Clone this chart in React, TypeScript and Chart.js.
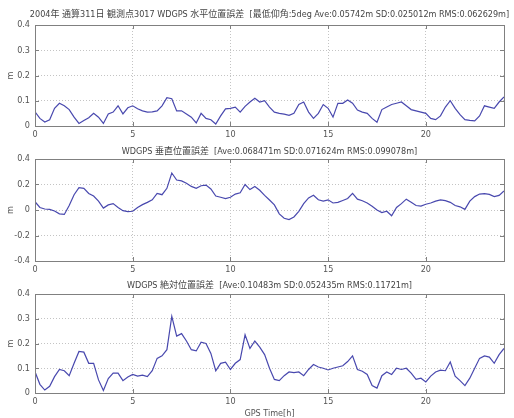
import React, { useEffect, useRef } from 'react';
import { Chart, registerables } from 'chart.js';

Chart.register(...registerables);

const hours = [
  0, 0.25, 0.5, 0.75, 1, 1.25, 1.5, 1.75, 2, 2.25, 2.5, 2.75, 3, 3.25, 3.5, 3.75,
  4, 4.25, 4.5, 4.75, 5, 5.25, 5.5, 5.75, 6, 6.25, 6.5, 6.75, 7, 7.25, 7.5, 7.75,
  8, 8.25, 8.5, 8.75, 9, 9.25, 9.5, 9.75, 10, 10.25, 10.5, 10.75, 11, 11.25, 11.5, 11.75,
  12, 12.25, 12.5, 12.75, 13, 13.25, 13.5, 13.75, 14, 14.25, 14.5, 14.75, 15, 15.25, 15.5, 15.75,
  16, 16.25, 16.5, 16.75, 17, 17.25, 17.5, 17.75, 18, 18.25, 18.5, 18.75, 19, 19.25, 19.5, 19.75,
  20, 20.25, 20.5, 20.75, 21, 21.25, 21.5, 21.75, 22, 22.25, 22.5, 22.75, 23, 23.25, 23.5, 23.75, 24,
];

const horizontalError = [
  0.056, 0.03, 0.016, 0.025, 0.07, 0.09, 0.08, 0.065, 0.035, 0.01, 0.022, 0.033, 0.05, 0.035, 0.01, 0.048,
  0.055, 0.08, 0.048, 0.072, 0.08, 0.068, 0.06, 0.055, 0.056, 0.06, 0.08, 0.112, 0.108, 0.06, 0.06, 0.048,
  0.035, 0.012, 0.05, 0.03, 0.025, 0.008, 0.04, 0.068, 0.07, 0.075, 0.055, 0.078, 0.095, 0.11, 0.095, 0.1,
  0.075, 0.055, 0.05, 0.047, 0.042, 0.05, 0.085, 0.095, 0.055, 0.03, 0.05, 0.085, 0.07, 0.035, 0.09, 0.09,
  0.103, 0.09, 0.063, 0.055, 0.05, 0.03, 0.015, 0.065, 0.075, 0.085, 0.09, 0.095, 0.08, 0.065, 0.06, 0.055,
  0.05, 0.03, 0.025, 0.04, 0.075, 0.1, 0.07, 0.045, 0.025, 0.022, 0.02, 0.04, 0.08, 0.075, 0.07, 0.095, 0.115,
];

const verticalError = [
  0.065, 0.02, 0.008, 0.005, -0.008, -0.03, -0.035, 0.035, 0.12, 0.175, 0.17, 0.13, 0.11, 0.07, 0.015, 0.04,
  0.05, 0.02, -0.005, -0.013, -0.01, 0.02, 0.042, 0.06, 0.08, 0.13, 0.12, 0.17, 0.29, 0.235, 0.228, 0.21,
  0.185, 0.17, 0.19, 0.195, 0.165, 0.11, 0.1, 0.09, 0.1, 0.125, 0.135, 0.2, 0.16, 0.185, 0.155, 0.115,
  0.078, 0.04, -0.03, -0.065, -0.075, -0.055, -0.01, 0.05, 0.095, 0.115, 0.08, 0.07, 0.08, 0.055, 0.06, 0.075,
  0.09, 0.13, 0.085, 0.073, 0.055, 0.03, 0.0, -0.02, -0.01, -0.045, 0.02, 0.05, 0.085, 0.06, 0.035, 0.03,
  0.045, 0.055, 0.07, 0.08, 0.073, 0.06, 0.035, 0.025, 0.005, 0.07, 0.105, 0.125, 0.128, 0.122, 0.105, 0.115, 0.15,
];

const absoluteError = [
  0.086, 0.035, 0.012, 0.027, 0.066, 0.095, 0.09, 0.07, 0.12, 0.168, 0.165, 0.12, 0.12, 0.053, 0.01, 0.058,
  0.08, 0.08, 0.05, 0.065, 0.075, 0.068, 0.072, 0.066, 0.09, 0.14, 0.15, 0.175, 0.31, 0.23, 0.24, 0.21,
  0.175, 0.17, 0.205, 0.2, 0.16, 0.09, 0.12, 0.125, 0.095, 0.12, 0.135, 0.235, 0.18, 0.21, 0.185, 0.155,
  0.1, 0.055, 0.05, 0.07, 0.085, 0.082, 0.085, 0.07, 0.095, 0.115, 0.105, 0.1, 0.093, 0.1, 0.105, 0.11,
  0.127, 0.15, 0.095, 0.088, 0.075, 0.03, 0.02, 0.07, 0.085, 0.075, 0.1, 0.095, 0.1, 0.08, 0.055, 0.06,
  0.045, 0.068, 0.085, 0.092, 0.09, 0.125, 0.068, 0.05, 0.03, 0.06, 0.1, 0.14, 0.15, 0.145, 0.12, 0.155, 0.18,
];

const titles = [
  '2004年 通算311日 観測点3017 WDGPS 水平位置誤差  [最低仰角:5deg Ave:0.05742m SD:0.025012m RMS:0.062629m]',
  'WDGPS 垂直位置誤差  [Ave:0.068471m SD:0.071624m RMS:0.099078m]',
  'WDGPS 絶対位置誤差  [Ave:0.10483m SD:0.052435m RMS:0.11721m]',
];

const xTitle = 'GPS Time[h]';
const yTitle = 'm';

const FONT = "'Liberation Sans Narrow', 'DejaVu Sans Condensed', 'Noto Sans CJK JP', sans-serif";
const TEXT = '#555';

const framePlugin = {
  id: 'frame',
  afterDraw(chart: any, _args: any, opts: any) {
    const { ctx, chartArea } = chart;
    const { left, right, top, bottom } = chartArea;
    ctx.save();
    ctx.font = `${opts.titleSize}px ${FONT}`;
    ctx.fillStyle = '#444';
    ctx.textAlign = 'center';
    ctx.textBaseline = 'middle';
    ctx.fillText(opts.text, (left + right) / 2, top - opts.offset);
    ctx.strokeStyle = '#808080';
    ctx.lineWidth = 1;
    ctx.strokeRect(Math.round(left) + 0.5, Math.round(top) + 0.5, Math.round(right - left), Math.round(bottom - top));
    const xs = chart.scales.x;
    const ys = chart.scales.y;
    ctx.beginPath();
    xs.ticks.forEach((t: any) => {
      const px = Math.round(xs.getPixelForValue(t.value)) + 0.5;
      ctx.moveTo(px, bottom);
      ctx.lineTo(px, bottom - 4);
      ctx.moveTo(px, top);
      ctx.lineTo(px, top + 4);
    });
    ys.ticks.forEach((t: any) => {
      const py = Math.round(ys.getPixelForValue(t.value)) + 0.5;
      ctx.moveTo(left, py);
      ctx.lineTo(left + 4, py);
      ctx.moveTo(right, py);
      ctx.lineTo(right - 4, py);
    });
    ctx.stroke();
    ctx.restore();
  },
};

type Panel = {
  title: string;
  values: number[];
  min: number;
  max: number;
  step: number;
  top: number;
  height: number;
  padTop: number;
  xHeight: number;
  titleOffset: number;
  showXTitle: boolean;
};

const panels: Panel[] = [
  { title: titles[0], values: horizontalError, min: 0, max: 0.4, step: 0.1, top: 0, height: 140, padTop: 25, xHeight: 14, titleOffset: 10, showXTitle: false },
  { title: titles[1], values: verticalError, min: -0.4, max: 0.4, step: 0.2, top: 140, height: 135, padTop: 19, xHeight: 14, titleOffset: 7, showXTitle: false },
  { title: titles[2], values: absoluteError, min: 0, max: 0.4, step: 0.1, top: 275, height: 144, padTop: 19, xHeight: 26, titleOffset: 8, showXTitle: true },
];

function PanelChart({ p }: { p: Panel }) {
  const ref = useRef<HTMLCanvasElement | null>(null);
  useEffect(() => {
    if (!ref.current) return;
    const font = { family: FONT, size: 9 };
    const chart = new Chart(ref.current, {
      type: 'line',
      data: {
        datasets: [
          {
            data: hours.map((h, i) => ({ x: h, y: p.values[i] })),
            borderColor: 'rgba(52, 52, 165, 0.9)',
            borderWidth: 1.2,
            pointRadius: 0,
            tension: 0,
            fill: false,
          },
        ],
      },
      options: {
        animation: false,
        responsive: false,
        devicePixelRatio: 1,
        layout: { padding: { top: p.padTop, right: 10, bottom: 0, left: 0 } },
        plugins: {
          legend: { display: false },
          tooltip: { enabled: false },
          title: { display: false },
          frame: { text: p.title, offset: p.titleOffset, titleSize: 9 },
        } as any,
        scales: {
          x: {
            type: 'linear',
            min: 0,
            max: 24,
            afterFit: (s: any) => { s.height = p.xHeight; },
            ticks: { stepSize: 5, includeBounds: false, padding: 3, maxRotation: 0, color: TEXT, font },
            grid: { color: '#c4c4c4', drawTicks: false, lineWidth: 1 },
            border: { display: false, dash: [1, 2] },
            title: { display: p.showXTitle, text: xTitle, color: TEXT, font, padding: { top: 0, bottom: 0 } },
          },
          y: {
            type: 'linear',
            min: p.min,
            max: p.max,
            afterFit: (s: any) => { s.width = 35; },
            ticks: { stepSize: p.step, padding: 5, color: TEXT, font },
            grid: { color: '#c4c4c4', drawTicks: false, lineWidth: 1 },
            border: { display: false, dash: [1, 2] },
            title: { display: true, text: yTitle, color: TEXT, font, padding: { top: 5, bottom: 0 } },
          },
        },
      } as any,
      plugins: [framePlugin],
    });
    return () => chart.destroy();
  }, [p]);
  return (
    <canvas
      ref={ref}
      width={514}
      height={p.height}
      style={{ position: 'absolute', left: 0, top: p.top, width: 514, height: p.height }}
    />
  );
}

export default function App() {
  return (
    <div style={{ position: 'fixed', left: 0, top: 0, width: 514, height: 418, background: '#fff', overflow: 'hidden' }}>
      {panels.map((p, i) => (
        <PanelChart key={i} p={p} />
      ))}
    </div>
  );
}
